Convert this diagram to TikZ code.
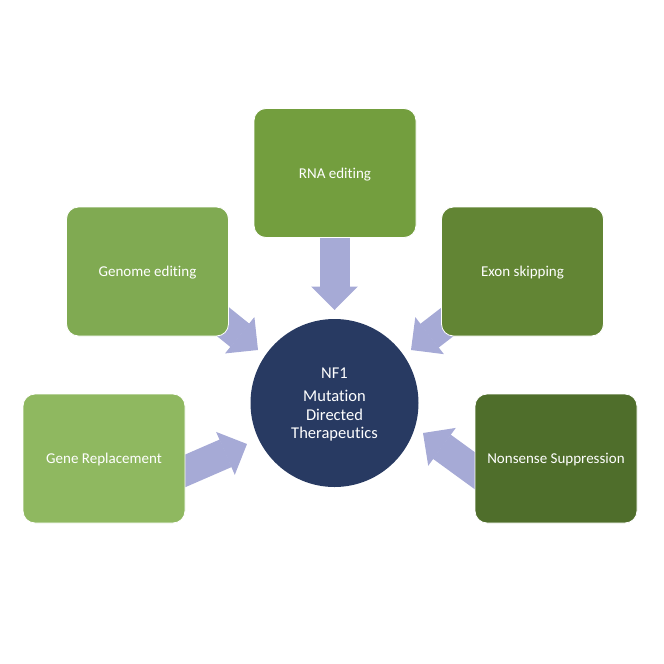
\documentclass[tikz,border=0pt]{standalone}
\usepackage{fontspec}
\setmainfont[Ligatures={NoCommon}]{Carlito}
\usetikzlibrary{arrows.meta}
\definecolor{cRNA}{HTML}{739E3E}
\definecolor{cGenome}{HTML}{80AA52}
\definecolor{cGene}{HTML}{8FB860}
\definecolor{cExon}{HTML}{628534}
\definecolor{cNon}{HTML}{4F6E2B}
\definecolor{cCirc}{HTML}{283A62}
\definecolor{cArrow}{HTML}{A6AAD6}
\tikzset{
  box/.style={rectangle, rounded corners=12pt, minimum width=162pt, minimum height=129pt,
    inner sep=0pt, draw=white, line width=0.8pt, text=white, text depth=0pt,
    font=\fontsize{15pt}{17pt}\selectfont},
  fat/.style={draw=cArrow, line width=30pt,
    -{Triangle[length=23.5pt,width=46.5pt,line width=1.5pt]}},
}
\begin{document}
\begin{tikzpicture}[x=1pt,y=-1pt]
\useasboundingbox (0,0) rectangle (664,664);
% anchors for arrows
\coordinate (sR) at (334.5,200);
\coordinate (tR) at (334.5,310);
\coordinate (sG) at (180,287);
\coordinate (tG) at (258,350);
\coordinate (sE) at (490,289);
\coordinate (tE) at (411,350);
\coordinate (sGR) at (155,484);
\coordinate (tGR) at (247,444);
\coordinate (sN) at (504,492);
\coordinate (tN) at (423,433);
\draw[fat] (sR) -- (tR);
\draw[fat] (sG) -- (tG);
\draw[fat] (sE) -- (tE);
\draw[fat] (sGR) -- (tGR);
\draw[fat] (sN) -- (tN);
% boxes
\node[box, fill=cRNA] (rna) at (335,173) {RNA editing};
\node[box, fill=cGenome] (genome) at (147.5,271.5) {Genome editing};
\node[box, fill=cExon] (exon) at (522.5,271.5) {Exon skipping};
\node[box, fill=cGene] (gene) at (104,458.5) {Gene Replacement};
\node[box, fill=cNon] (non) at (556,458.5) {Nonsense Suppression};
% centre
\node[circle, fill=cCirc, minimum size=168pt, inner sep=0pt, text=white, align=center,
  text depth=0pt, font=\fontsize{16.5pt}{18.3pt}\selectfont] (nf1) at (334.5,403)
  {NF1\\[5.5pt]Mutation\\Directed\\Therapeutics};
\end{tikzpicture}
\end{document}
